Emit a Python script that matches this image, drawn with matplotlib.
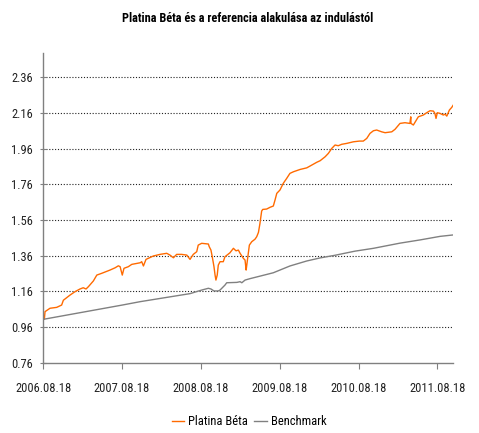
import pandas as pd
import matplotlib.pyplot as plt
import matplotlib.dates as mdates
import matplotlib.ticker as mticker

start = pd.Timestamp('2006-08-18')

# days since launch (2006.08.18) and values
beta_days = [0, 5, 8, 31, 62, 85, 93, 124, 147, 170, 185, 198, 209, 232, 248,
    271, 309, 333, 348, 356, 366, 374, 394, 410, 449, 456, 464, 476, 510,
    541, 572, 587, 603, 618, 641, 665, 680, 695, 711, 718, 734, 765, 769,
    777, 783, 791, 796, 800, 806, 811, 819, 834, 842, 865, 881, 893, 904,
    912, 927, 935, 940, 943, 947, 955, 966, 981, 989, 997, 1004, 1012, 1017,
    1035, 1051, 1066, 1074, 1082, 1097, 1112, 1128, 1143, 1159, 1190, 1221,
    1236, 1267, 1283, 1306, 1321, 1337, 1352, 1367, 1383, 1406, 1437, 1465,
    1483, 1499, 1514, 1530, 1545, 1568, 1584, 1615, 1630, 1653, 1676, 1699,
    1703, 1704, 1715, 1738, 1761, 1777, 1792, 1808, 1815, 1820, 1826, 1839,
    1854, 1862, 1870, 1882, 1893, 1900]
beta_vals = [1.000, 1.005, 1.046, 1.065, 1.070, 1.083, 1.110, 1.139, 1.158,
    1.173, 1.180, 1.173, 1.186, 1.218, 1.251, 1.261, 1.279, 1.292, 1.303,
    1.298, 1.251, 1.289, 1.298, 1.311, 1.320, 1.326, 1.302, 1.339, 1.358,
    1.367, 1.373, 1.363, 1.348, 1.367, 1.367, 1.363, 1.339, 1.367, 1.382,
    1.419, 1.429, 1.425, 1.410, 1.391, 1.354, 1.298, 1.251, 1.223, 1.251,
    1.307, 1.326, 1.326, 1.354, 1.376, 1.401, 1.387, 1.391, 1.373, 1.345,
    1.335, 1.279, 1.307, 1.345, 1.419, 1.438, 1.452, 1.466, 1.490, 1.540,
    1.610, 1.619, 1.621, 1.631, 1.638, 1.672, 1.709, 1.728, 1.765, 1.793,
    1.821, 1.830, 1.843, 1.852, 1.862, 1.883, 1.892, 1.914, 1.933, 1.961,
    1.980, 1.976, 1.984, 1.989, 1.998, 2.002, 2.002, 2.017, 2.045, 2.060,
    2.064, 2.054, 2.049, 2.054, 2.068, 2.101, 2.105, 2.101, 2.138, 2.101,
    2.092, 2.138, 2.148, 2.161, 2.172, 2.170, 2.157, 2.129, 2.161, 2.157,
    2.148, 2.153, 2.142, 2.176, 2.191, 2.204]

bench_days = [0, 366, 449, 680, 734, 765, 777, 791, 811, 819, 842, 850, 897,
    912, 920, 935, 958, 1004, 1066, 1143, 1221, 1282, 1352, 1444, 1530,
    1653, 1746, 1839, 1900]
bench_vals = [1.003, 1.083, 1.102, 1.147, 1.167, 1.177, 1.173, 1.162, 1.162,
    1.167, 1.195, 1.208, 1.210, 1.214, 1.208, 1.223, 1.231, 1.245, 1.264,
    1.302, 1.330, 1.347, 1.362, 1.385, 1.401, 1.430, 1.448, 1.468, 1.476]

y_ticks = [0.76, 0.96, 1.16, 1.36, 1.56, 1.76, 1.96, 2.16, 2.36]
x_ticks = ['2006-08-18', '2007-08-18', '2008-08-18', '2009-08-18',
    '2010-08-18', '2011-08-18']

beta_dates = start + pd.to_timedelta(beta_days, unit='D')
bench_dates = start + pd.to_timedelta(bench_days, unit='D')

plt.rcParams['font.family'] = ['Roboto Condensed', 'Liberation Sans',
    'DejaVu Sans']

fig = plt.figure(figsize=(4.79, 4.33), dpi=100)
ax = fig.add_axes([0.0904, 0.1624, 0.8559, 0.7145])

ax.plot(beta_dates, beta_vals, color='#ff6a00', linewidth=1.0,
    label='Platina Béta')
ax.plot(bench_dates, bench_vals, color='#808080', linewidth=1.0,
    label='Benchmark')

ax.set_xlim(start, start + pd.Timedelta(days=1900))
ax.set_ylim(0.76, 2.494)
ax.set_yticks(y_ticks)
ax.yaxis.set_major_formatter(mticker.FormatStrFormatter('%.2f'))
ax.set_xticks(pd.to_datetime(x_ticks))
ax.xaxis.set_major_formatter(mdates.DateFormatter('%Y.%m.%d'))

for t in y_ticks[1:]:
    ax.axhline(t, color='#222222', linewidth=0.8, linestyle=(0, (1, 1.6)),
        zorder=0)

for side in ['top', 'right']:
    ax.spines[side].set_visible(False)
for side in ['left', 'bottom']:
    ax.spines[side].set_color('#808080')
    ax.spines[side].set_linewidth(1)

ax.tick_params(axis='x', direction='out', length=4, color='#808080',
    labelsize=9, pad=10, labelcolor='#222222')
ax.tick_params(axis='y', direction='inout', length=5, color='#808080',
    labelsize=9, pad=5, labelcolor='#222222')

fig.suptitle('Platina Béta és a referencia alakulása az indulástól',
    x=0.518, y=0.973, fontsize=8.8, fontweight='bold')

fig.legend(loc='center', bbox_to_anchor=(0.52, 0.026), ncol=2,
    frameon=False, fontsize=9, handlelength=1.0, handletextpad=0.3,
    columnspacing=0.5)

plt.savefig('out.png', dpi=100)
